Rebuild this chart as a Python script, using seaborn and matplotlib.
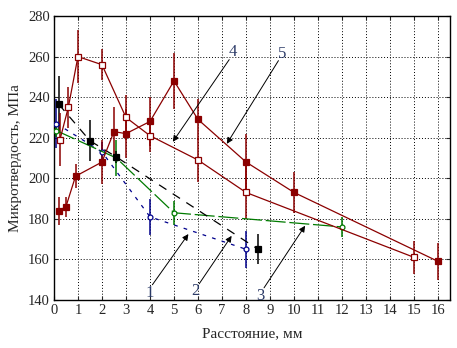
import numpy as np
import pandas as pd
import matplotlib
matplotlib.use("Agg")
import matplotlib.pyplot as plt
import seaborn as sns

# curve 1 (blue, dashed, open circles)
x1 = [0.1, 2, 4, 8]
y1 = [227, 213, 181, 165]
e1 = [12, 5, 9, 9]
# curve 2 (green, long dashes, open circles)
x2 = [0.1, 2.6, 5, 12]
y2 = [223.5, 210, 183, 176]
e2 = [3, 9, 6, 5]
# curve 3 (black, dashed, filled squares)
x3 = [0.2, 1.5, 2.6, 8.5]
y3 = [236.5, 218.5, 210.5, 165]
e3 = [14, 10, 3, 7.5]
# curve 4 (dark red, filled squares)
x4 = [0.2, 0.5, 0.9, 2, 2.5, 3, 4, 5, 6, 8, 10, 16]
y4 = [184, 186, 201, 208, 223, 222, 228, 248, 229, 208, 193, 159]
e4 = [7, 5, 6, 11, 12, 12, 12, 14, 10, 14, 10, 9]
# curve 5 (dark red, open squares)
x5 = [0.25, 0.6, 1, 2, 3, 4, 6, 8, 15]
y5 = [219, 235, 260, 256, 230, 221, 209, 193, 161]
e5 = [13, 10, 13, 7.5, 11, 8, 11, 13, 8]

labels = ["1", "2", "3", "4", "5"]
label_pos = [(4.0, 143.5), (5.9, 144.5), (8.6, 142.0), (7.45, 262.5), (9.5, 261.5)]
arrow_tips = [(5.6, 172.5), (7.4, 171.6), (10.46, 176.6), (4.95, 218), (7.2, 217)]
arrow_tails = [(4.1, 147.5), (6.05, 148), (8.75, 146), (7.3, 258.5), (9.35, 258)]

sns.set_style("ticks")
plt.rcParams['font.family'] = ['Liberation Serif', 'DejaVu Serif']

fig = plt.figure(figsize=(4.57, 3.48), dpi=100)
ax = fig.add_axes([0.118, 0.138, 0.867, 0.816])

red = "#8B0000"
series = [
    (x1, y1, e1, "#00008B", "o", "white", (0, (3, 5)), 3.5),
    (x2, y2, e2, "#007A00", "o", "white", (0, (16, 3)), 3.5),
    (x3, y3, e3, "black", "s", "black", (0, (7, 6)), 3.8),
    (x4, y4, e4, red, "s", red, "-", 5),
    (x5, y5, e5, red, "s", "white", "-", 5),
]
for xs, ys, es, c, m, fc, ls, ms in series:
    df = pd.DataFrame({"x": xs, "y": ys})
    ax.errorbar(xs, ys, yerr=es, fmt="none", ecolor=c, elinewidth=1.1, capsize=0, zorder=2)
    sns.lineplot(data=df, x="x", y="y", ax=ax, sort=False, color=c, lw=0.9,
                 linestyle=ls, marker=m, markersize=ms, markerfacecolor=fc,
                 markeredgecolor=c, markeredgewidth=0.9, zorder=3)

for lab, (tx, ty), tip, tail in zip(labels, label_pos, arrow_tips, arrow_tails):
    ax.text(tx, ty, lab, color="#2B3A67", fontsize=12, ha="center", va="center")
    ax.annotate("", xy=tip, xytext=tail,
                arrowprops=dict(arrowstyle="-|>", color="black", lw=0.7,
                                mutation_scale=9, shrinkA=0, shrinkB=0))

ax.set_xlim(0, 16.5)
ax.set_ylim(140, 280)
ax.set_xticks(range(0, 17))
ax.set_yticks(range(140, 281, 20))
ax.grid(True, color="black", linestyle=(0, (1, 2)), linewidth=0.7)
ax.tick_params(direction="in", length=3, labelsize=10.5, top=True, right=True, pad=3)
for s in ax.spines.values():
    s.set_linewidth(1.0)
    s.set_color("black")
ax.set_xlabel("Расстояние, мм", fontsize=11, labelpad=7)
ax.set_ylabel("Микротвердость, МПа", fontsize=11, labelpad=4)

fig.savefig("out.png", dpi=100)
